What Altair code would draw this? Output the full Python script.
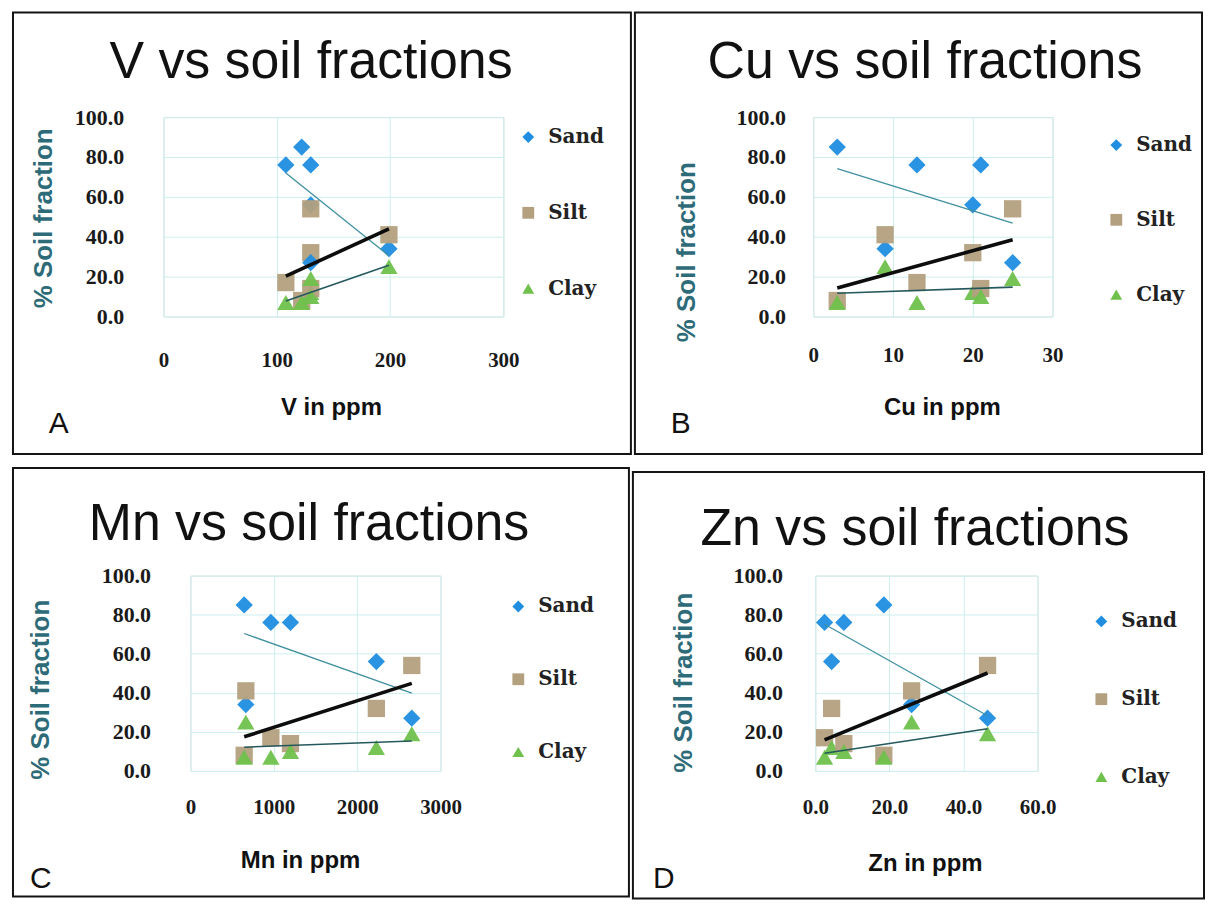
import altair as alt
import pandas as pd

# Soil composition (%) of the six samples
sand = [85, 34, 76, 56, 76, 27]
silt = [8, 41, 17, 32, 14, 54]
clay = [7, 25, 7, 12, 10, 19]

# Element concentration (ppm) of the same six samples
v_ppm = [122, 199, 108, 130, 130, 130]
cu_ppm = [3, 9, 13, 20, 21, 25]
mn_ppm = [645, 665, 965, 2230, 1200, 2655]
zn_ppm = [18.5, 26, 2.5, 4.4, 7.7, 46.5]

fractions = ["Sand", "Silt", "Clay"]
marker_colors = ["#1f8de0", "#b3a07e", "#6fc14c"]
marker_shapes = ["diamond", "square", "triangle-up"]
line_styles = {"Sand": ("#3f8f9f", 1.3), "Clay": ("#24585c", 1.6), "Silt": ("#0d0d0d", 3.6)}

y_ticks = [0, 20, 40, 60, 80, 100]

GRID = "#cdeeee"

panels = [
    dict(x=v_ppm, domain=[0, 300], ticks=[0, 100, 200, 300], fmt="d",
         title="V vs soil fractions", xtitle="V in ppm", letter="A",
         W=341, H=200, L=151, R=128, T=105, B=138,
         tx=148, ty=-39, ytx=-120, yty=101, ylp=40, xlp=33, xtx=168, xty=91,
         lx=-105, ly=308, legx=356, legy=10, rowpad=56),
    dict(x=cu_ppm, domain=[0, 30], ticks=[0, 10, 20, 30], fmt="d",
         title="Cu vs soil fractions", xtitle="Cu in ppm", letter="B",
         W=240, H=200, L=179, R=150, T=105, B=138,
         tx=112, ty=-39, ytx=-127, yty=135, ylp=28, xlp=28, xtx=129, xty=91,
         lx=-133, ly=308, legx=294, legy=18, rowpad=55),
    dict(x=mn_ppm, domain=[0, 3000], ticks=[0, 1000, 2000, 3000], fmt="d",
         title="Mn vs soil fractions", xtitle="Mn in ppm", letter="C",
         W=251, H=196, L=178, R=189, T=108, B=126,
         tx=119, ty=-36, ytx=-150, yty=114, ylp=40, xlp=26, xtx=110, xty=90,
         lx=-150, ly=304, legx=319, legy=21, rowpad=53),
    dict(x=zn_ppm, domain=[0, 60], ticks=[0, 20, 40, 60], fmt=".1f",
         title="Zn vs soil fractions", xtitle="Zn in ppm", letter="D",
         W=223, H=196, L=183, R=167, T=104, B=128,
         tx=100, ty=-31, ytx=-132, yty=107, ylp=33, xlp=26, xtx=110, xty=93,
         lx=-152, ly=304, legx=277, legy=36, rowpad=58),
]


def make_panel(cfg):
    df = pd.DataFrame({"X": cfg["x"], "Sand": sand, "Silt": silt, "Clay": clay})
    W, H = cfg["W"], cfg["H"]
    xscale = alt.Scale(domain=cfg["domain"], nice=False, zero=False)
    yscale = alt.Scale(domain=[0, 100], nice=False)
    xaxis = alt.Axis(values=cfg["ticks"], format=cfg["fmt"], title=cfg["xtitle"],
                     labelFont="Liberation Serif", labelFontWeight="bold", labelFontSize=21,
                     labelColor="#1a1a1a", labelPadding=cfg["xlp"], labelFlush=False,
                     ticks=False, domain=False,
                     grid=True, gridColor=GRID, titleFont="Liberation Sans", titleFontSize=24,
                     titleFontWeight="bold", titleColor="#111111", titleX=cfg["xtx"],
                     titleY=cfg["xty"], titleBaseline="middle", titleAlign="center")
    yaxis = alt.Axis(values=y_ticks, format=".1f", title="% Soil fraction",
                     labelFont="Liberation Serif", labelFontWeight="bold", labelFontSize=22,
                     labelColor="#1a1a1a", labelPadding=cfg["ylp"], labelFlush=False,
                     ticks=False, domain=False,
                     grid=True, gridColor=GRID, titleFont="Liberation Sans", titleFontSize=26,
                     titleFontWeight="bold", titleColor="#2e6b78", titleX=cfg["ytx"],
                     titleY=cfg["yty"], titleAngle=270, titleBaseline="middle", titleAlign="center")
    legend = alt.Legend(title=None, orient="none", legendX=cfg["legx"], legendY=cfg["legy"],
                        direction="vertical", rowPadding=cfg["rowpad"], padding=0,
                        labelFont="DejaVu Serif", labelFontWeight="bold", labelFontSize=20,
                        labelColor="#222222", symbolSize=140, labelOffset=10,
                        symbolOpacity=1, symbolStrokeWidth=0)
    enc = dict(x=alt.X("X:Q", scale=xscale, axis=xaxis),
               y=alt.Y("Percent:Q", scale=yscale, axis=yaxis))
    base = alt.Chart(df).transform_fold(fractions, as_=["Fraction", "Percent"])
    pts = base.mark_point(filled=True, size=300, opacity=0.95).encode(
        color=alt.Color("Fraction:N", scale=alt.Scale(domain=fractions, range=marker_colors),
                        legend=legend),
        shape=alt.Shape("Fraction:N", scale=alt.Scale(domain=fractions, range=marker_shapes),
                        legend=legend),
        **enc)
    reg = base.transform_regression("X", "Percent", groupby=["Fraction"])
    lines = []
    for f in ["Sand", "Clay", "Silt"]:
        c, w = line_styles[f]
        lines.append(reg.transform_filter(alt.datum.Fraction == f)
                     .mark_line(color=c, strokeWidth=w).encode(**enc))
    one = alt.Data(values=[{"k": 1}])
    frame = alt.Chart(one).mark_rect(fillOpacity=0, stroke="#141414", strokeWidth=2).encode(
        x=alt.value(-cfg["L"]), x2=alt.value(W + cfg["R"]),
        y=alt.value(-cfg["T"]), y2=alt.value(H + cfg["B"]))
    title = alt.Chart(one).mark_text(font="Liberation Sans", fontSize=52, align="center",
                                     baseline="alphabetic", color="#111111").encode(
        x=alt.value(cfg["tx"]), y=alt.value(cfg["ty"]), text=alt.value(cfg["title"]))
    letter = alt.Chart(one).mark_text(font="Liberation Sans", fontSize=30, align="center",
                                      baseline="middle", color="#111111").encode(
        x=alt.value(cfg["lx"]), y=alt.value(cfg["ly"]), text=alt.value(cfg["letter"]))
    return alt.layer(pts, *lines, frame, title, letter).properties(width=W, height=H)


def spacer():
    # invisible 1px cell so both rows start from the same origin
    return (alt.Chart(alt.Data(values=[{"k": 1}]))
            .mark_rect(opacity=0, strokeWidth=0)
            .encode(x=alt.value(0), x2=alt.value(0), y=alt.value(0), y2=alt.value(0))
            .properties(width=1, height=1,
                        view=alt.ViewBackground(stroke="transparent")))


charts = [make_panel(p) for p in panels]
row1 = alt.hconcat(spacer(), charts[0], charts[1], spacing=0).resolve_scale(
    color="independent", shape="independent")
row2 = alt.hconcat(spacer(), charts[2], charts[3], spacing=0).resolve_scale(
    color="independent", shape="independent")
chart = (alt.vconcat(row1, row2, spacing=10)
         .resolve_scale(color="independent", shape="independent")
         .properties(padding={"left": 0, "top": 1, "right": 0, "bottom": 0})
         .configure_view(stroke=GRID, strokeWidth=1)
         .configure(background="white"))

chart.save("out.html", embed_options={"renderer": "svg", "actions": False})
